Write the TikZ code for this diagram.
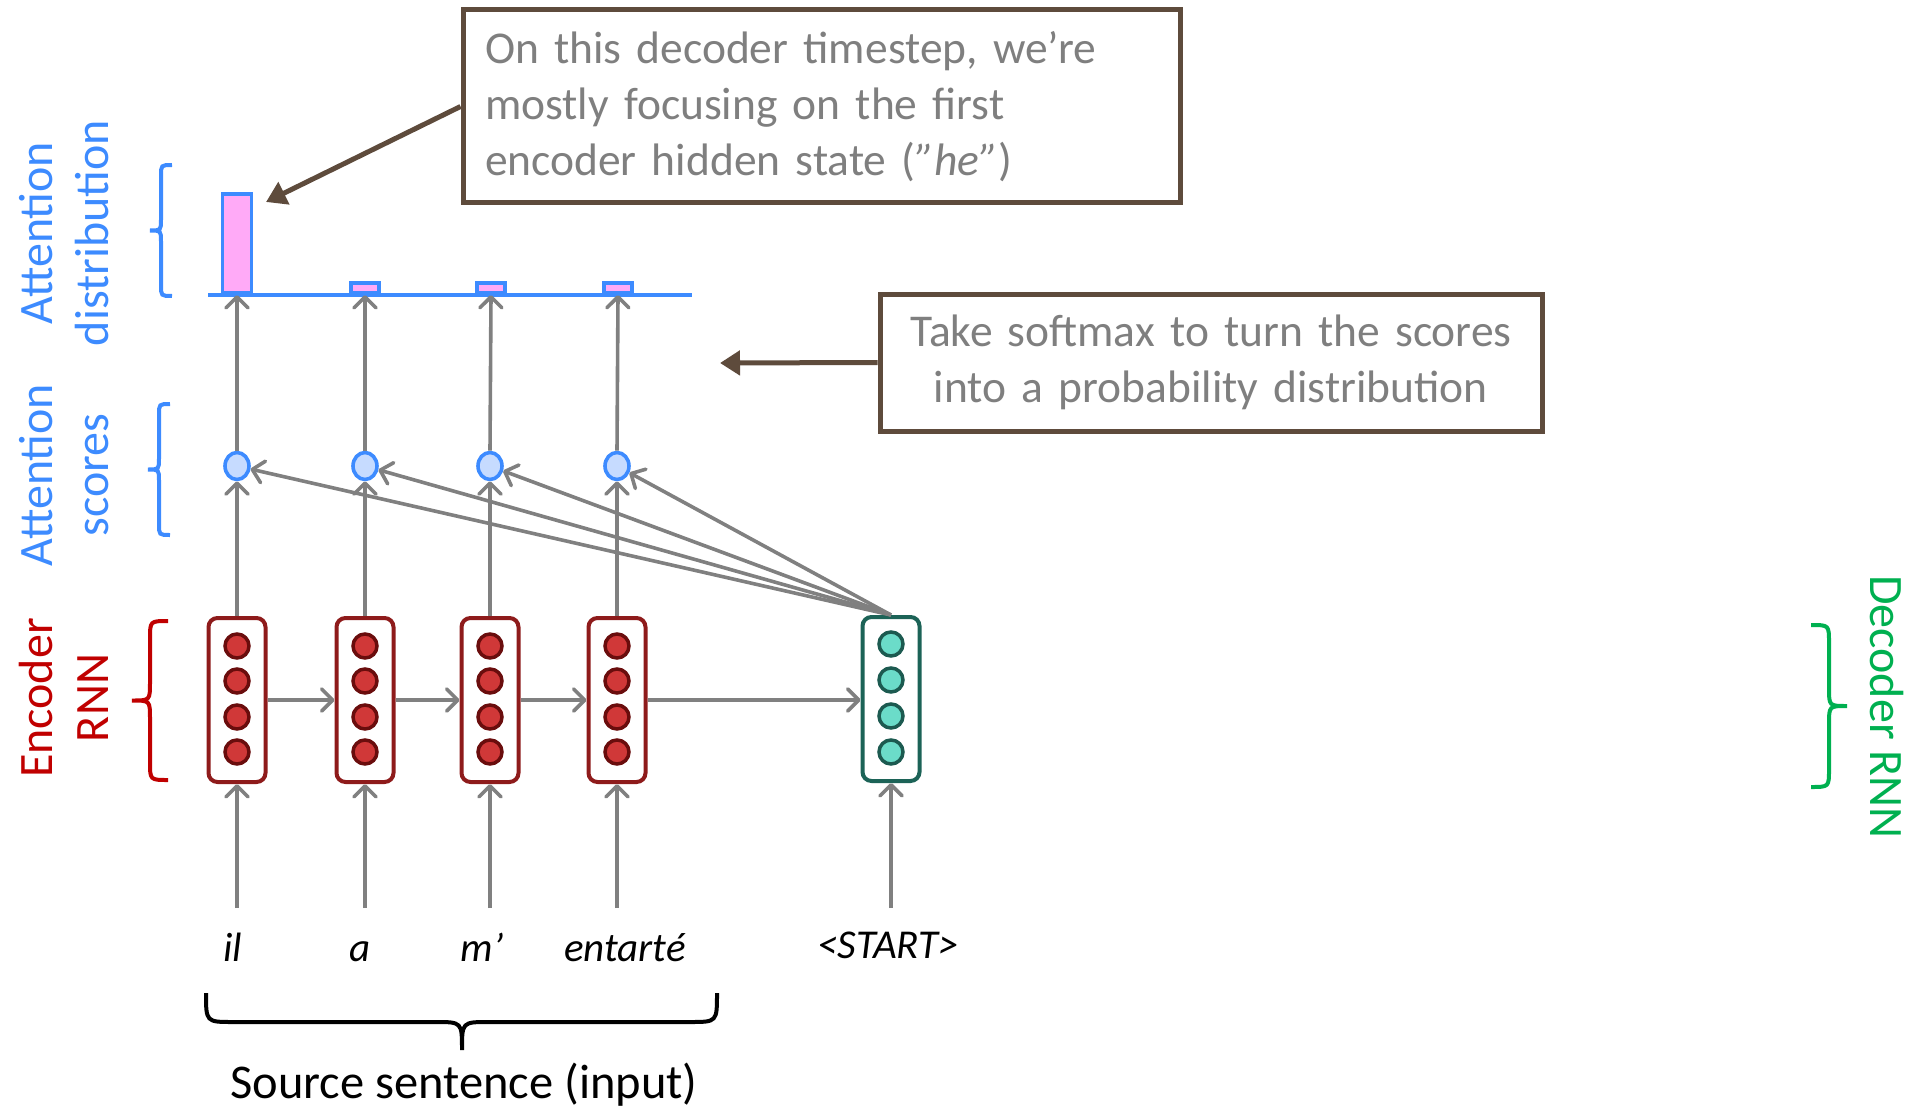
\documentclass[tikz,border=0pt]{standalone}
\usepackage{fontspec}
\setmainfont{Carlito}
\usetikzlibrary{arrows.meta,shapes.geometric}
\definecolor{arrgray}{HTML}{808080}
\definecolor{brownc}{HTML}{5E4B3C}
\definecolor{txtgray}{HTML}{7F7F7F}
\definecolor{attblue}{HTML}{3D8BFF}
\definecolor{pinkfill}{HTML}{FFAAF7}
\definecolor{scorefill}{HTML}{C6DBFF}
\definecolor{labred}{HTML}{C00000}
\definecolor{encborder}{HTML}{8E1B1B}
\definecolor{encdotfill}{HTML}{D03838}
\definecolor{encdotdraw}{HTML}{6A0D0D}
\definecolor{decborder}{HTML}{1C6357}
\definecolor{decdotfill}{HTML}{6BDCC9}
\definecolor{decdotdraw}{HTML}{1C5A50}
\definecolor{labgreen}{HTML}{00B050}
\newcommand{\myvbrace}[5]{%
  \pgfmathsetmacro\bxm{(#2+#3)/2}%
  \pgfmathsetmacro\bym{(#4+#5)/2}%
  \pgfmathsetmacro\br{abs(#2-#3)/2}%
  \draw[#1] (#2,#4) .. controls (\bxm,#4) .. (\bxm,{#4+\br}) -- (\bxm,{\bym-\br}) .. controls (\bxm,\bym) .. (#3,\bym) .. controls (\bxm,\bym) .. (\bxm,{\bym+\br}) -- (\bxm,{#5-\br}) .. controls (\bxm,#5) .. (#2,#5);%
}
\begin{document}
\begin{tikzpicture}[x=1pt,y=-1pt,
  arr/.style={draw=arrgray, line width=3.6pt, -{Straight Barb[length=11pt,width=22pt,round]}},
  brarr/.style={draw=brownc, line width=5pt, -{Triangle[length=20pt,width=24pt]}},
  encbox/.style={draw=encborder, line width=4pt, rounded corners=9pt, fill=white, minimum width=57pt, minimum height=164pt, inner sep=0pt},
  decbox/.style={draw=decborder, line width=4pt, rounded corners=9pt, fill=white, minimum width=57pt, minimum height=164pt, inner sep=0pt},
  encdot/.style={circle, draw=encdotdraw, fill=encdotfill, line width=3.5pt, minimum size=24pt, inner sep=0pt},
  decdot/.style={circle, draw=decdotdraw, fill=decdotfill, line width=3.5pt, minimum size=24pt, inner sep=0pt},
  score/.style={ellipse, draw=attblue, fill=scorefill, line width=3.6pt, minimum width=24pt, minimum height=27pt, inner sep=0pt},
  bar/.style={draw=attblue, fill=pinkfill, line width=3.6pt, inner sep=0pt, anchor=south},
  word/.style={font=\fontsize{41}{48}\selectfont\itshape, inner sep=0pt, anchor=base},
  lab/.style={font=\fontsize{48}{56}\selectfont, align=center, inner sep=0pt},
  callout/.style={draw=brownc, line width=5pt, fill=white, text=txtgray, font=\fontsize{45.5}{56}\selectfont, inner xsep=22pt, inner ysep=0pt},
  brace/.style={line width=4pt}
]
\useasboundingbox (0,0) rectangle (1921,1110);

% attention distribution baseline and bars
\coordinate (bl) at (208,295);
\coordinate (br) at (692,295);
\draw[draw=attblue, line width=3.6pt] (bl) -- (br);
\foreach \i/\x in {1/237,2/365,3/491,4/618}{
  \coordinate (b\i) at (\x,295);
}
\node[bar, minimum width=29pt, minimum height=99pt] (bar1) at (b1) {};
\node[bar, minimum width=28pt, minimum height=10pt] (bar2) at (b2) {};
\node[bar, minimum width=28pt, minimum height=10pt] (bar3) at (b3) {};
\node[bar, minimum width=28pt, minimum height=10pt] (bar4) at (b4) {};

% encoder
\foreach \i/\x in {1/237,2/365,3/490,4/617}{
  \node[encbox] (e\i) at (\x,700) {};
  \foreach \j/\y in {1/646,2/681,3/717,4/752}{
    \node[encdot] (e\i c\j) at (\x,\y) {};
  }
  \node[score] (s\i) at (\x,466) {};
  \coordinate (in\i) at (\x,908);
  \draw[arr] (in\i) -- (e\i.south);
  \draw[arr] (e\i.north) -- (s\i.south);
  \draw[arr] (s\i.north) -- (b\i);
}

% decoder
\node[decbox] (d) at (891,699) {};
\foreach \j/\y in {1/644,2/680,3/716,4/752}{
  \node[decdot] (d c\j) at (891,\y) {};
}
\coordinate (din) at (891,908);
\draw[arr] (din) -- (d.south);
\draw[arr] (e1.east) -- (e2.west);
\draw[arr] (e2.east) -- (e3.west);
\draw[arr] (e3.east) -- (e4.west);
\draw[arr] (e4.east) -- (d.west |- e4.east);
\foreach \i in {1,2,3,4}{
  \draw[arr] (d.north) -- (s\i);
}

% words
\node[word] (w1) at (233,961) {il};
\node[word] (w2) at (360,961) {a};
\node[word] (w3) at (482,961) {m’};
\node[word] (w4) at (625,961) {entarté};
\node[word] (w5) at (888,958) {<START>};

% bottom brace
\draw[brace] (206,993) .. controls (206,1022) .. (233,1022) -- (435,1022) .. controls (462,1022) .. (462,1050) .. controls (462,1022) .. (489,1022) -- (690,1022) .. controls (717,1022) .. (717,993);
\node[font=\fontsize{48.5}{56}\selectfont, inner sep=0pt] (src) at (464,1085) {Source sentence (input)};

% callouts
\node[callout, text width=673pt, minimum height=193pt, align=left] (c1) at (821.5,106.5) {On this decoder timestep, we’re\\mostly focusing on the first\\encoder hidden state (\textit{”he”})};
\coordinate (c1tip) at (266,202);
\draw[brarr] (c1.west) -- (c1tip);

\node[callout, text width=618pt, minimum height=137pt, align=center] (c2) at (1211,362.5) {Take softmax to turn the scores\\into a probability distribution};
\coordinate (c2tip) at (720,363);
\draw[brarr] (c2.west) -- (c2tip);

% side labels
\node[lab, text=attblue, rotate=90] (l1) at (64,233) {Attention\\distribution};
\node[lab, text=attblue, rotate=90] (l2) at (64,475) {Attention\\scores};
\node[lab, text=labred, rotate=90] (l3) at (64,698) {Encoder\\RNN};
\node[lab, text=labgreen, rotate=-90] (l4) at (1887,707) {Decoder RNN};

\myvbrace{brace, draw=attblue}{172}{150}{165}{296}
\myvbrace{brace, draw=attblue}{170}{148}{404}{535}
\myvbrace{brace, draw=labred}{168}{132}{621}{780}
\myvbrace{brace, draw=labgreen}{1811}{1847}{625}{787}
\end{tikzpicture}
\end{document}
